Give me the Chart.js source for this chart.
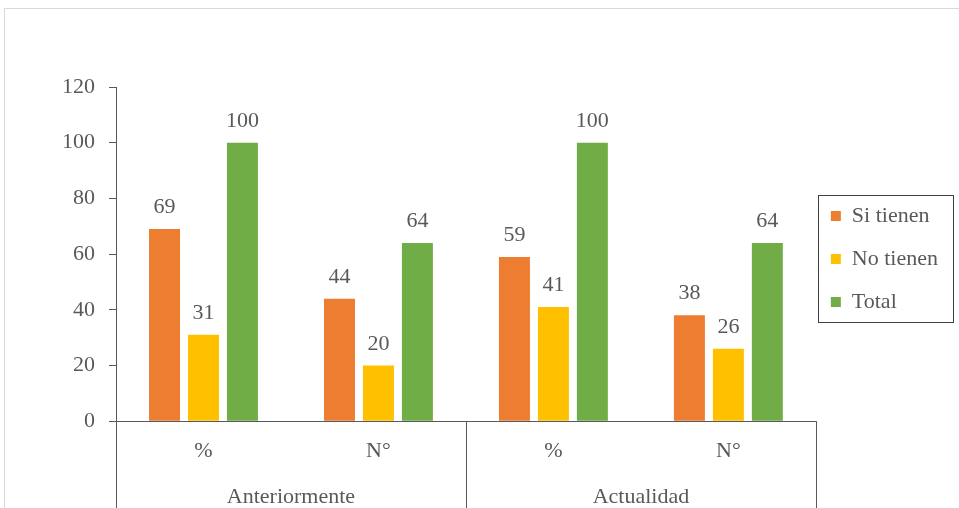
<!DOCTYPE html>
<html>
<head>
<meta charset="utf-8">
<script src="https://cdn.jsdelivr.net/npm/chart.js@4/dist/chart.umd.min.js"></script>
<style>
    html, body { margin: 0; padding: 0; background: #fff; overflow: hidden; width: 959px; height: 508px; }
    #frame { position: absolute; left: 4px; top: 8px; width: 1000px; height: 600px; border: 1px solid #d9d9d9; }
    #chart { position: absolute; left: 0; top: 0; }
</style>
</head>
<body>
<div id="frame"></div>
<canvas id="chart" width="959" height="515"></canvas>
<script>
// --- DATA ---
const categories = ['%', 'N°', '%', 'N°'];
const groups = ['Anteriormente', 'Actualidad'];
const siTienen = [69, 44, 59, 38];
const noTienen = [31, 20, 41, 26];
const total = [100, 64, 100, 64];
const yTicks = [0, 20, 40, 60, 80, 100, 120];

const textColor = '#595959';
const axisColor = '#595959';
const font = { family: '"Liberation Serif", "Times New Roman", serif', size: 22 };

// value labels above each bar
const barLabels = {
    id: 'barLabels',
    afterDatasetsDraw(chart) {
        const ctx = chart.ctx;
        ctx.save();
        ctx.font = `${font.size}px ${font.family}`;
        ctx.fillStyle = textColor;
        ctx.textAlign = 'center';
        ctx.textBaseline = 'alphabetic';
        chart.data.datasets.forEach((ds, i) => {
            chart.getDatasetMeta(i).data.forEach((bar, j) => {
                ctx.fillText(String(ds.data[j]), bar.x, bar.y - 16);
            });
        });
        ctx.restore();
    }
};

// group separators under the x axis
const groupLines = {
    id: 'groupLines',
    afterDraw(chart) {
        const xs = chart.scales.x;
        const ctx = chart.ctx;
        const mid = (xs.getPixelForValue(1) + xs.getPixelForValue(2)) / 2;
        ctx.save();
        ctx.strokeStyle = axisColor;
        ctx.lineWidth = 1;
        [xs.left, mid, xs.right].forEach(x => {
            const px = Math.round(x) + 0.5;
            ctx.beginPath();
            ctx.moveTo(px, chart.chartArea.bottom);
            ctx.lineTo(px, chart.height);
            ctx.stroke();
        });
        ctx.restore();
    }
};

// nudge legend a little and frame it
const legendFrame = {
    id: 'legendFrame',
    afterLayout(chart) {
        const lg = chart.legend;
        lg.left -= 6;
        lg.top += 5;
        lg.bottom += 5;
    },
    afterDraw(chart) {
        const boxes = chart.legend.legendHitBoxes;
        if (!boxes || !boxes.length) return;
        const left = Math.min(...boxes.map(b => b.left)) - 13;
        const right = Math.max(...boxes.map(b => b.left + b.width)) + 15;
        const top = boxes[0].top + boxes[0].height / 2 - 21;
        const last = boxes[boxes.length - 1];
        const bottom = last.top + last.height / 2 + 20;
        const ctx = chart.ctx;
        ctx.save();
        ctx.strokeStyle = '#404040';
        ctx.lineWidth = 1;
        ctx.strokeRect(Math.round(left) + 0.5, Math.round(top) + 0.5, Math.round(right - left), Math.round(bottom - top));
        ctx.restore();
    }
};

new Chart(document.getElementById('chart'), {
    type: 'bar',
    data: {
        labels: categories,
        datasets: [
            { label: 'Si tienen', data: siTienen, backgroundColor: '#ED7D31' },
            { label: 'No tienen', data: noTienen, backgroundColor: '#FFC000' },
            { label: 'Total', data: total, backgroundColor: '#70AD47' }
        ]
    },
    options: {
        responsive: false,
        animation: false,
        categoryPercentage: 0.668,
        barPercentage: 0.795,
        layout: { padding: { top: 87, left: 48, right: 5, bottom: 3 } },
        scales: {
            x: {
                grid: { display: false, drawTicks: false },
                border: { display: true, color: axisColor },
                ticks: { font, color: textColor, padding: 17 }
            },
            x2: {
                type: 'category',
                labels: groups,
                position: 'bottom',
                offset: true,
                grid: { display: false, drawTicks: false },
                border: { display: false },
                ticks: { font, color: textColor, padding: 2 }
            },
            y: {
                min: 0,
                max: 120,
                afterBuildTicks: (scale) => { scale.ticks = yTicks.map(v => ({ value: v })); },
                grid: { drawOnChartArea: false, tickLength: 7, color: axisColor },
                border: { display: true, color: axisColor },
                ticks: { font, color: textColor, padding: 14 }
            }
        },
        plugins: {
            legend: {
                position: 'right',
                fullSize: false,
                labels: { font, color: textColor, boxWidth: 10, boxHeight: 10, padding: 21 }
            },
            tooltip: { enabled: false }
        }
    },
    plugins: [barLabels, groupLines, legendFrame]
});
</script>
</body>
</html>
